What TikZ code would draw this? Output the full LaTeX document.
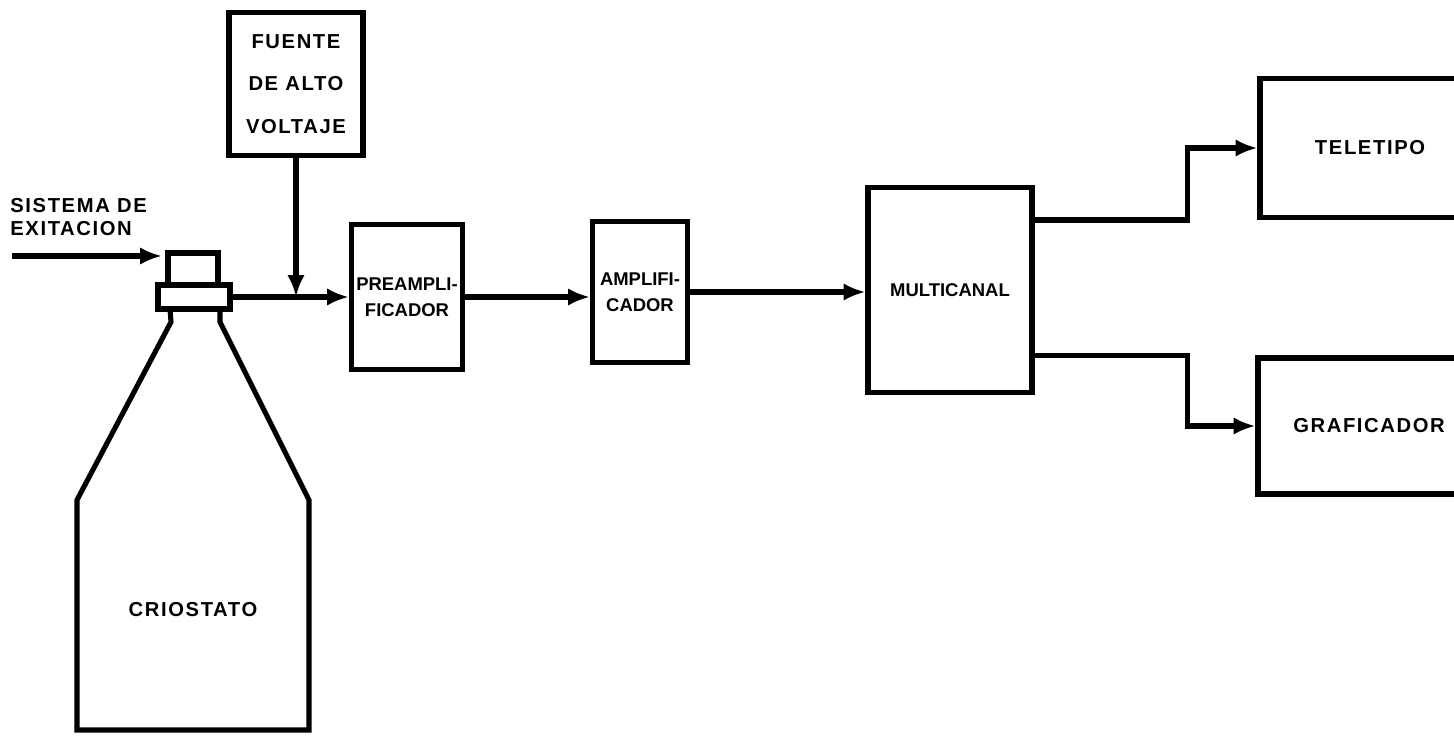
\documentclass[tikz,border=0pt]{standalone}
\usepackage{fontspec}
\setmainfont{Liberation Sans}
\newfontfamily\widefont{Liberation Sans}[LetterSpace=8]
\usetikzlibrary{positioning, arrows.meta}

\begin{document}
\begin{tikzpicture}[x=0.02cm, y=-0.02cm,
    blk/.style={draw, line width=2.9pt, align=center, inner sep=0pt,
                font=\fontsize{10.5}{15}\selectfont\bfseries},
    wide/.style={font=\fontsize{11.5}{15}\selectfont\bfseries\widefont},
    lbl/.style={align=left, inner sep=0pt, font=\fontsize{11.5}{13}\selectfont\bfseries\widefont},
    arr/.style={-{Latex[length=12.5pt, width=10pt]}, line width=2.9pt},
    ln/.style={line width=2.9pt}]
  \useasboundingbox (0,0) rectangle (1454,742);
  \clip (0,0) rectangle (1454,742);

  % blocks
  \node[blk, minimum width=2.68cm, minimum height=2.86cm,
        font=\fontsize{11.5}{24}\selectfont\bfseries\widefont] (fuente) at (296,84) {FUENTE\\DE ALTO\\VOLTAJE};
  \node[blk, minimum width=2.22cm, minimum height=2.9cm] (preamp) at (407,297) {PREAMPLI-\\FICADOR};
  \node[blk, minimum width=1.9cm, minimum height=2.82cm] (amp) at (640,292) {AMPLIFI-\\CADOR};
  \node[blk, minimum width=3.28cm, minimum height=4.1cm] (multi) at (950,290) {MULTICANAL};
  \node[blk, wide, minimum width=4.4cm, minimum height=2.78cm] (tele) at (1370,148) {TELETIPO};
  \node[blk, wide, minimum width=4.44cm, minimum height=2.72cm] (graf) at (1369,426) {GRAFICADOR};

  % criostato
  \node[blk, minimum width=1.0cm, minimum height=0.64cm] (cap) at (193,269) {};
  \node[blk, minimum width=1.44cm, minimum height=0.48cm] (collar) at (194,297) {};
  \draw[ln] (170,309) -- (171,322) -- (77,500) -- (77,730) -- (309,730)
        -- (309,500) -- (220,322) -- (220,309);
  \node[lbl] (crio) at (193,610) {CRIOSTATO};

  % excitacion
  \node[lbl, anchor=north west] (sist) at (10,198) {SISTEMA DE\\EXITACION};
  \coordinate (exA) at (12,256);
  \coordinate (exB) at (162,256);
  \draw[arr] (exA) -- (exB);

  % conexiones
  \draw[arr] (collar.east) -- (preamp.west);
  \draw[arr] (fuente.south) -- (fuente.south |- collar.east);
  \draw[arr] (preamp.east) -- (preamp.east -| amp.west);
  \draw[arr] (amp.east) -- (amp.east -| multi.west);
  \draw[arr] (multi.east |- tele.south) -- ++(153,0) |- (tele.west);
  \draw[arr] (multi.east |- graf.north) -- ++(153,0) |- (graf.west);
\end{tikzpicture}
\end{document}
